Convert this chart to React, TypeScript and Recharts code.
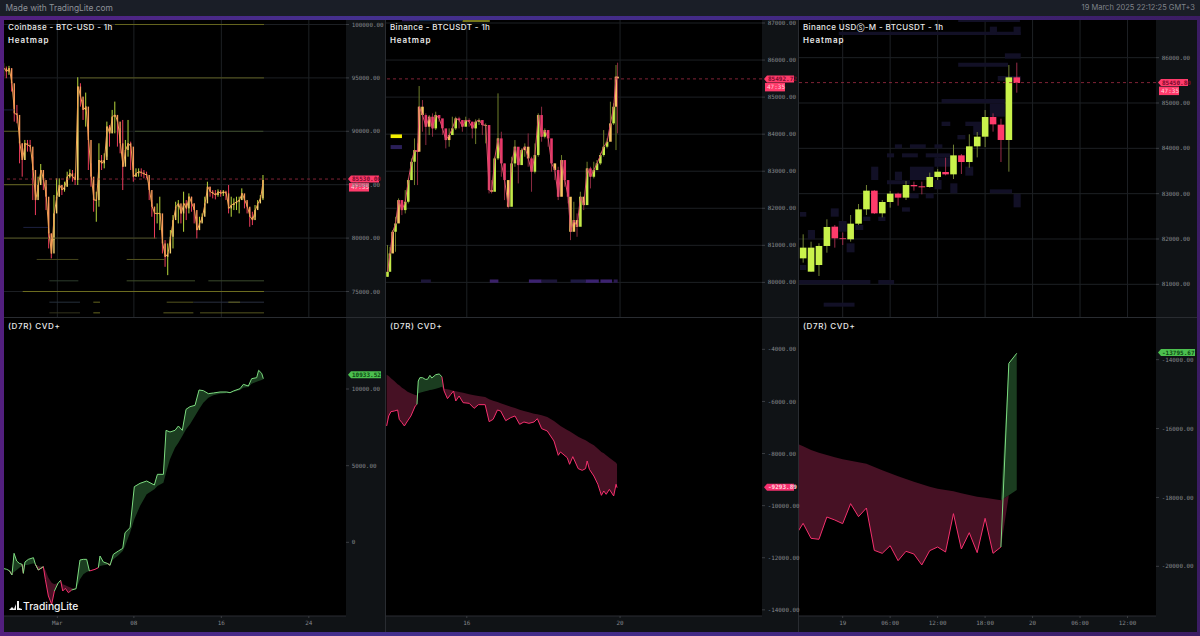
import React from "react";
import {
  ComposedChart, Bar, Line, Area, XAxis, YAxis, CartesianGrid,
  ReferenceLine, ReferenceArea, ReferenceDot,
} from "recharts";

/* ---------- Panel 1: Coinbase BTC-USD ---------- */
const p1Close = [95906,95594,95906,94500,91688,91531,88875,87312,88875,88719,
88562,86375,83562,84969,86375,85438,83875,80437,78562,82312,
83875,84969,84500,84812,85750,86062,85750,85438,94188,93250,
92000,92312,89188,85750,83562,83562,87312,87000,87312,90438,
89812,91375,91531,90906,88875,86687,88250,88875,88562,85750,
86062,86219,86125,86000,85906,84500,82938,82312,82312,82312,
79500,78250,78562,80125,81688,82938,83250,82312,83250,82781,
83875,83250,82625,80750,81375,82000,83250,84812,84344,84188,
84031,84344,84188,84344,84188,82781,83094,83250,83406,83562,
84188,83562,82938,82000,81688,82625,83250,83719,85438];
const p1High = [96375,96062,96125,95906,93875,92469,89812,88875,89188,89188,
89188,87625,85438,85750,86937,86062,84812,83250,80437,84031,
85594,85594,84969,85281,86219,86438,86375,86062,95062,94500,
92937,93625,90750,87000,84500,84344,88875,87781,87937,90906,
90594,92000,92781,91531,90281,91062,89188,91062,89031,86844,
86531,86531,86531,86375,86219,85281,83562,82938,83250,83875,
81062,79812,79500,80750,82156,83406,83562,82938,84344,83562,
84188,83875,83250,82000,82000,82312,83875,85281,84812,84500,
84500,84562,84500,84500,84438,84969,83875,83719,83875,83875,
84656,83875,83406,82781,82469,83094,83562,84031,85906];
const p1Low = [95125,94969,95281,93719,90906,90750,87000,85750,87312,88094,
88094,83562,82156,83875,85125,84500,82625,79031,78094,79812,
83562,83875,84031,84344,84812,85594,85281,84969,84969,92312,
91062,90438,86375,84812,82469,81531,82938,86375,86531,87625,
88562,89812,89812,88562,87937,84500,87000,87625,86375,85281,
85750,85750,85750,85594,85594,83562,82000,79969,81375,80750,
78562,77312,76531,79344,79031,82000,81375,81375,80594,81688,
82312,82469,81375,79969,80750,81531,82312,83562,83875,83719,
83625,83875,83875,83937,83562,82312,82000,82625,82625,82312,
83562,82781,82312,81062,81219,82000,82781,83406,83562];
const p1Days = p1Close.map((_, i) => -3.88 + i * 0.242);
const p1Heat: [number, number, number, string][] = [
  [100000, 6.27, 19.9, "#66661f"],
  [95000, 3.07, 19.9, "#5c5c20"],
  [90000, -3.88, -2.57, "#55551f"],
  [90000, 8.1, 19.84, "#3c4c2c"],
  [85000, -3.88, -1.19, "#66661f"],
  [80000, -3.88, 0.27, "#55551f"],
  [80000, 0.48, 10.09, "#4c4c20"],
  [78000, -0.89, 2.92, "#44441c"],
  [78000, 7.34, 10.85, "#55551f"],
  [76000, 0.27, 2.92, "#2c3c2c"],
  [76000, 7.34, 13.59, "#3e4c28"],
  [76000, 14.81, 19.9, "#3a4a2c"],
  [75000, -2.17, 19.9, "#6e6e20"],
  [74000, 0.27, 3.07, "#26303c"],
  [74000, 4.29, 4.9, "#66661f"],
  [74000, 11, 13.44, "#55551f"],
  [74000, 13.44, 19.9, "#2a3040"],
  [74000, 16.64, 17.71, "#66661f"],
  [73000, 0.27, 3.07, "#33331c"],
  [73000, 4.29, 4.9, "#66661f"],
  [73000, 10.7, 13.44, "#5c5c20"],
  [73000, 14.05, 19.9, "#55551f"],
  [81000, -2.11, 0.18, "#1c2040"],
  [92000, -3.88, -2.87, "#1c2040"],
];
const p1Ticks = [75000, 80000, 85000, 90000, 95000, 100000];
const p1X = [1, 8, 16, 24];
const p1XLabels: Record<number, string> = { 1: "Mar", 8: "08", 16: "16", 24: "24" };

/* ---------- Panel 2: Binance BTCUSDT ---------- */
const p2Hours = [-1.6,-0.1,1.6,3.4,5.3,7.4,9.5,11.4,13.4,15.3,17.2,18.2,20.3,22.4,24.5,26.6,28.6,30.7,32.8,34.9,37,39,41.1,43.2,45.3,47.4,49.5,51.5,53.6,55.7,57.8,59.9,62,63.6,65.5,67.6,69.7,71.7,74,76.1,78.2,80.3,82.4,84.4,86.5,88.6,90.7,92.8,94.9,96.9,99,101.1,103.2,105.3,107.4,109.4,111.5,113,115.1,117.1,119.2,121.3,123.4,125.5,127.6,129.6,131.7,133.8,135.9,138,140,141.5,142.5];
const p2Close = [80286,80781,81366,81591,82221,81951,82176,82761,83256,83571,83526,84741,84516,84201,84471,84156,84516,84426,84156,83841,83976,84156,84426,84381,84201,84381,84336,84156,84336,84381,84246,84246,82491,82446,83346,83886,83211,82761,82041,83211,83661,83166,83571,83661,83346,82986,83436,84516,83931,84111,83886,83211,83031,82311,83301,82761,82311,81366,81681,81501,82311,82086,83076,82851,83031,83211,83436,83661,83796,84291,84741,85551,85506];
const p2High = [81006,80961,81411,81771,82266,82221,82491,82806,83346,83886,83751,85299,84921,84561,84516,84561,84606,84516,84336,83976,84156,84471,84471,84471,84381,84471,84426,84336,84399,84426,84336,84291,83661,82761,83391,85101,84066,83211,82581,83391,83841,83571,83616,83751,84021,83391,83751,84561,84741,84156,84066,83301,83211,83121,83436,82851,82491,82131,82176,81861,82446,82311,83256,83121,83256,83301,83499,84111,83886,84876,84831,85866,85929];
const p2Low = [80151,80421,80871,80826,81771,81816,81861,82131,82851,82626,82626,83571,84066,83706,83976,83931,84111,84336,83976,83616,83661,84066,84111,84156,84066,84291,84201,83886,83733,84246,83976,83751,82401,82401,82581,83301,82851,82221,81996,82671,83121,82671,83211,83391,83121,82446,82941,83391,83796,83886,83661,82986,82761,82221,82581,82581,82131,81141,81411,81231,81771,81951,82581,82536,82806,83031,83166,83391,83616,83931,84246,83571,84021];
const p2Warm = [2, 4, 11, 12, 14, 20, 33, 38, 43, 44, 52, 54, 57, 58, 59, 61, 69, 71, 72];
const p2Ticks = [80000, 81000, 82000, 83000, 84000, 85000, 86000, 87000];
const p2X = [48, 144];
const p2XLabels: Record<number, string> = { 48: "16", 144: "20" };
const p2Heat: [number, number, number, number, string][] = [
  [0.3, 7.4, 83994, 83895, "#f2ee00"],
  [0.3, 7.4, 83706, 83598, "#2a1f58"],
  [45.3, 62.4, 87081, 87027, "#77771a"],
  [7.4, 18.2, 87081, 87045, "#30205c"],
  [18.2, 45.3, 87081, 87045, "#162a4c"],
  [19.3, 25.5, 80079, 79989, "#1c1638"],
  [62.4, 67.8, 80079, 79989, "#3a2068"],
  [86.9, 94.9, 80079, 79989, "#3c2270"],
  [94.9, 104.6, 80079, 79989, "#1c1638"],
  [113, 122.4, 80079, 79989, "#1e1a42"],
  [122.4, 130.7, 80079, 79989, "#3a2270"],
  [131.7, 139, 80079, 79989, "#3c2270"],
  [140, 142.5, 80079, 79989, "#2a1a50"],
];

/* ---------- Panel 3: Binance USD-M BTCUSDT ---------- */
const p3Hours = [-5,-4,-3,-2,-1,0,1,2,3,4,5,6,7,8,9,10,11,12,13,14,15,16,17,18,19,20,21,22];
const p3Open = [81573,81279,81426,81846,82272,82015,81993,82338,82654,83066,82566,82816,83000,82912,83191,83162,83147,83368,83478,83426,83845,83698,84044,84257,84691,84522,84184,85566];
const p3Close = [81809,81809,81846,82265,82015,82000,82338,82654,83066,82566,82816,83000,82912,83191,83162,83140,83368,83485,83426,83845,83698,84044,84257,84691,84529,84184,85566,85441];
const p3High = [82103,81940,81905,82434,82309,82142,82529,82772,83191,83081,82860,83059,83022,83279,83265,83265,83463,83544,83794,84081,83875,84309,84360,84845,84772,84654,85838,85890];
const p3Low = [81478,81279,81184,81698,81809,81868,81941,82309,82529,82551,82478,82691,82735,82860,83066,82985,83132,83301,83404,83323,83434,83573,83801,84029,84368,83698,83485,85228];
const p3Ticks = [81000, 82000, 83000, 84000, 85000, 86000];
const p3X = [0, 6, 12, 18, 24, 30, 36];
const p3XLabels: Record<number, string> = { 0: "19", 6: "06:00", 12: "12:00", 18: "18:00", 24: "20", 30: "06:00", 36: "12:00" };
const p3Heat: [number, number, number, number][] = [
  [14.6,22.4,86830,86787],[-0.5,22.5,86573,86500],[18.6,19.5,86684,86500],[21.6,22.5,86684,86500],
  [20.5,22.5,86096,85978],[14.6,20.9,85890,85801],[19.6,22.5,85596,85493],[12.5,20.5,85088,84993],
  [18.6,20.5,84993,84698],[12.5,13.6,84588,84493],[15.5,17.5,84588,84493],[16.5,17.5,84493,84294],
  [14.5,15.5,84294,84198],[6.6,7.5,84088,83999],[8.5,10.5,84088,83999],[11.6,12.6,84088,83999],
  [5.6,6.5,83890,83801],[7.5,9.5,83890,83801],[10.5,13.6,83890,83801],[11.6,13.6,83801,83595],
  [3.6,4.5,83595,83301],[6.6,7.5,83485,83301],[8.5,11.5,83595,83301],[15.5,16.5,83595,83397],
  [5.6,8.5,83294,83206],[11.6,12.5,83301,83095],[13.6,14.5,83228,83007],[8.5,9.6,83007,82897],
  [10.5,11.5,83007,82897],[18.6,21.4,83095,83007],[21.6,22.5,82992,82698],[7.5,8.5,82698,82603],
  [-5.4,-4.6,82595,82492],[-1.5,-0.5,82676,82492],[-0.5,0.5,82397,82161],[2.6,3.5,82492,82397],
  [4.5,5.4,82492,82397],[1.6,2.6,82309,82198],[-4.4,-3.5,82198,81992],[0.5,1.5,81904,81706],
  [-5.4,-4.6,81426,81316],[-5.5,3.5,81095,81000],[4.5,6.5,81095,81000],[-2.4,1.5,80595,80507],
];

/* ---------- Panel 4: CVD Coinbase ---------- */
const p4Days = [-3.88,-3.63,-3.39,-3.15,-2.96,-2.72,-2.48,-2.23,-2.11,-1.96,-1.65,-1.19,-1.01,-0.74,-0.28,-0.1,0.18,0.48,0.73,1.09,1.3,1.49,1.73,2.01,2.31,2.71,3.07,3.38,3.68,3.93,4.45,4.75,4.9,5.21,5.57,5.82,6.12,6.58,6.98,7.19,7.65,8.04,8.56,9.17,9.87,10.15,10.7,10.94,11.3,11.76,12.07,12.43,12.77,13.13,13.59,13.96,14.35,14.81,15.27,15.88,16.49,16.79,17.1,17.71,18.01,18.47,18.77,19.23,19.41,19.69,19.84];
const p4Cvd = [-1717,-1761,-1848,-2131,-717,-1217,-1370,-1435,-2022,-1283,-1109,-1000,-1435,-1804,-1587,-2413,-3500,-4044,-3174,-2631,-2478,-3174,-3000,-3283,-3109,-3022,-1152,-1109,-1109,-1870,-1761,-1652,-891,-1283,-1370,-1500,-783,-565,-391,630,957,3631,3848,4000,3739,4435,4435,7305,7196,7305,7587,7305,8674,8848,8935,9935,9892,9696,9740,9805,9805,9761,9870,10022,10305,10196,10674,10740,11218,11022,10674];
const p4Sma = [-1717,-1761,-1870,-1978,-1935,-1804,-1652,-1544,-1500,-1500,-1457,-1370,-1457,-1544,-1652,-1804,-2304,-2631,-2739,-2631,-2631,-2739,-2804,-2891,-2978,-3065,-2413,-2087,-1935,-1870,-1717,-1587,-1544,-1500,-1457,-1370,-1109,-848,-565,-239,630,1500,2370,3130,3457,3674,3891,4544,5413,6174,6500,6935,7370,7696,8239,8674,9109,9435,9587,9696,9740,9740,9805,9935,10087,10131,10348,10479,10522,10587,10631];
const p4Ticks = [0, 5000, 10000];

/* ---------- Panel 5: CVD Binance ---------- */
const p5Hours = [-2.2,-0.9,0.5,2.6,4.7,5.7,7.4,8.9,10.9,13,15.7,16.8,17.6,18.6,20.3,22,23.4,24.9,26.1,28.6,30.7,32.4,33.8,35.9,38,39.7,41.1,43.2,45.7,49.5,52.6,55.3,59.5,62,64.5,67.2,69.2,72.4,75.5,78.2,81.1,83.8,86.9,90.1,92.2,94.9,98.4,102.6,105.3,106.7,110.9,112.4,114.4,117.8,120.3,122.4,123.4,124.8,127.6,130.1,132.3,133.8,135.3,137.3,140,141.5,142.1];
const p5Cvd = [-6942,-6558,-6392,-6367,-6328,-6686,-6814,-6942,-6750,-6558,-6175,-6111,-5215,-5087,-5087,-5151,-5151,-4998,-5100,-4972,-4946,-5049,-5599,-5893,-5727,-5599,-5983,-5791,-6047,-6072,-6264,-6123,-6123,-6776,-6686,-6328,-6367,-6738,-6622,-6558,-6878,-6789,-6840,-6789,-6661,-7045,-7134,-7518,-8068,-7940,-8158,-8414,-8119,-8580,-8644,-8580,-8286,-8606,-8862,-9181,-9604,-9437,-9565,-9373,-9629,-9181,-9309];
const p5Sma = [-4972,-5023,-5113,-5215,-5343,-5381,-5471,-5535,-5624,-5688,-5752,-5765,-5688,-5663,-5637,-5612,-5586,-5560,-5548,-5509,-5471,-5433,-5509,-5535,-5560,-5586,-5612,-5637,-5663,-5727,-5765,-5791,-5829,-5919,-5970,-6021,-6072,-6136,-6200,-6251,-6315,-6367,-6418,-6469,-6494,-6533,-6597,-6750,-6878,-6942,-7096,-7147,-7224,-7352,-7429,-7493,-7531,-7582,-7684,-7812,-7940,-7992,-8068,-8158,-8286,-8350,-8414];
const p5Ticks = [-14000, -12000, -10000, -8000, -6000, -4000];

/* ---------- Panel 6: CVD Binance USD-M ---------- */
const p6Hours = [-5.6,-5,-4,-3,-2,-1,0,1,2,3,4,5,6,7,8,9,10,11,12,13,14,15,16,17,18,19,20,21,22];
const p6Cvd = [-18974,-18752,-19187,-19216,-18568,-18655,-18761,-18181,-18558,-18307,-19536,-19623,-19400,-19836,-19564,-19642,-19961,-19545,-19439,-19584,-18471,-19497,-19023,-19603,-18607,-19623,-19439,-14107,-13816];
const p6Sma = [-16458,-16516,-16623,-16700,-16768,-16836,-16894,-16932,-16981,-17020,-17116,-17213,-17300,-17387,-17465,-17542,-17620,-17687,-17745,-17784,-17823,-17881,-17929,-17978,-18007,-18045,-18084,-17939,-17784];
const p6Ticks = [-20000, -18000, -16000, -14000];

/* ---------- Theme ---------- */
const MONO = "'DejaVu Sans Mono', monospace";
const UI = "Inter, sans-serif";
const GRID = "#1d2024";
const TICK = "#85888c";
const AXIS_BG = "#101316";
const PINK = "#ff3b6b";
const GREEN_TAG = "#4cc04f";

type Palette = { upBody: string; downBody: string; upWick: string; downWick: string; warm: string; body: number };
const PAL1: Palette = { upBody: "#f4d070", downBody: "#f79a5c", upWick: "#b8d83c", downWick: "#ec3c5c", warm: "#f4c060", body: 1.4 };
const PAL2: Palette = { upBody: "#c4ea48", downBody: "#e8386a", upWick: "#6f7f2a", downWick: "#8a2a40", warm: "#f7c462", body: 2.6 };
const PAL3: Palette = { upBody: "#c9f24b", downBody: "#ff3b6b", upWick: "#7d8f3a", downWick: "#a83050", warm: "#ff3b6b", body: 6.6 };

const candleShape = (pal: Palette) => (props: any) => {
  const { x, y, width, height, payload } = props;
  const { open, close, high, low, warm } = payload;
  const cx = x + width / 2;
  const k = high > low ? height / (high - low) : 0;
  const up = close >= open;
  const top = y + (high - Math.max(open, close)) * k;
  const h = Math.max(0.8, Math.abs(open - close) * k);
  return (
    <g>
      <line x1={cx} x2={cx} y1={y} y2={y + height} stroke={up ? pal.upWick : pal.downWick} strokeWidth={pal.body > 3 ? 0.9 : 1} />
      <rect x={cx - pal.body / 2} y={top} width={pal.body} height={h} fill={warm ? pal.warm : up ? pal.upBody : pal.downBody} />
    </g>
  );
};

const priceTag = (value: string, timer: string | null, bg: string, fg: string, w: number) => (props: any) => {
  const { cx, cy } = props;
  const X = cx + 2;
  return (
    <g>
      <path d={`M${X} ${cy} L${X + 3} ${cy - 3.5} H${X + w} V${cy + 3.5} H${X + 3} Z`} fill={bg} />
      <text x={X + 4} y={cy + 2.2} fontFamily={MONO} fontSize={6} fontWeight={700} fill={fg}>{value}</text>
      {timer && <rect x={X + 1} y={cy + 4} width={20} height={8.5} fill={bg} />}
      {timer && <text x={X + 3} y={cy + 10.4} fontFamily={MONO} fontSize={6} fill="#ffd0da">{timer}</text>}
    </g>
  );
};

const yFmt = (v: number) => (v === 0 ? "0" : v.toFixed(2));

type PanelGeom = { left: number; plot: number; axis: number };
const G1: PanelGeom = { left: 4, plot: 342, axis: 39 };
const G2: PanelGeom = { left: 386, plot: 376, axis: 36 };
const G3: PanelGeom = { left: 799, plot: 357, axis: 41 };

function Frame({ g, top, height, strip, z, children }: { g: PanelGeom; top: number; height: number; strip?: boolean; z?: number; children: React.ReactNode }) {
  return (
    <div style={{ position: "absolute", left: g.left, top, width: g.plot + g.axis, height, background: "#000", zIndex: z }}>
      <div style={{ position: "absolute", left: g.plot, top: 0, width: g.axis, height, background: AXIS_BG }} />
      {strip && <div style={{ position: "absolute", left: 0, top: height - 16, width: g.plot + g.axis, height: 16, background: AXIS_BG }} />}
      {children}
    </div>
  );
}

const Title = ({ text, x, y, spacing = 0.36, weight = 500 }: { text: React.ReactNode; x: number; y: number; spacing?: number; weight?: number }) => (
  <div style={{ position: "absolute", left: x, top: y, font: `${weight} 8px ${UI}`, letterSpacing: spacing, color: "#e8e8e8", whiteSpace: "nowrap", lineHeight: "10px" }}>{text}</div>
);

const Heatmap = () => <Title text="Heatmap" x={4} y={15} spacing={0.9} weight={600} />;

function yAxisEl(g: PanelGeom, domain: number[], ticks: number[]) {
  return (
    <YAxis orientation="right" type="number" width={g.axis} domain={domain} ticks={ticks} allowDataOverflow interval={0}
      tick={{ fill: TICK, fontFamily: MONO, fontSize: 5.9 }} tickSize={3} tickMargin={2.7} tickLine={{ stroke: "#3a3d42" }}
      axisLine={false} tickFormatter={yFmt} />
  );
}

function CandleChart(p: {
  g: PanelGeom; rows: any[]; xDomain: number[]; yDomain: number[]; yTicks: number[]; xTicks: number[];
  pal: Palette; barSize: number; trail?: string; children?: React.ReactNode;
}) {
  return (
    <ComposedChart width={p.g.plot + p.g.axis} height={297} data={p.rows} margin={{ top: 0, right: 0, bottom: 0, left: 0 }}>
      <CartesianGrid stroke={GRID} horizontalValues={p.yTicks} verticalValues={p.xTicks} />
      <XAxis hide type="number" dataKey="t" domain={p.xDomain} allowDataOverflow ticks={p.xTicks} />
      {yAxisEl(p.g, p.yDomain, p.yTicks)}
      {p.children}
      {p.trail && <Line dataKey="close" type="linear" stroke={p.trail} strokeWidth={1} dot={false} isAnimationActive={false} />}
      <Bar dataKey="range" barSize={p.barSize} shape={candleShape(p.pal)} isAnimationActive={false} />
    </ComposedChart>
  );
}

function buildCvd(ts: number[], cvd: number[], sma: number[]) {
  const above = cvd.map((v, i) => v >= sma[i]);
  return ts.map((t, i) => ({
    t,
    up: [sma[i], Math.max(cvd[i], sma[i])],
    down: [Math.min(cvd[i], sma[i]), sma[i]],
    lineUp: above[i] || above[i + 1] ? cvd[i] : null,
    lineDown: !above[i] || above[i + 1] === false ? cvd[i] : null,
  }));
}

function CvdChart(p: {
  g: PanelGeom; rows: any[]; xDomain: number[]; yDomain: number[]; yTicks: number[]; xTicks: number[];
  xLabels: Record<number, string>; tag?: React.ReactNode;
}) {
  return (
    <ComposedChart width={p.g.plot + p.g.axis} height={314} data={p.rows} margin={{ top: 0, right: 0, bottom: 0, left: 0 }}>
      <XAxis type="number" dataKey="t" domain={p.xDomain} allowDataOverflow ticks={p.xTicks} interval={0} height={16}
        tick={{ fill: TICK, fontFamily: MONO, fontSize: 5.9 }} tickSize={2} tickMargin={3} axisLine={{ stroke: "#2a2d32" }} tickLine={{ stroke: "#3a3d42" }}
        tickFormatter={(v: number) => p.xLabels[v] ?? ""} />
      {yAxisEl(p.g, p.yDomain, p.yTicks)}
      <Area dataKey="down" type="linear" stroke="none" fill="#4a1226" fillOpacity={0.95} isAnimationActive={false} dot={false} activeDot={false} />
      <Area dataKey="up" type="linear" stroke="none" fill="#1e4423" fillOpacity={0.9} isAnimationActive={false} dot={false} activeDot={false} />
      <Line dataKey="lineDown" type="linear" stroke="#f5306e" strokeWidth={1} dot={false} isAnimationActive={false} />
      <Line dataKey="lineUp" type="linear" stroke="#7ddc80" strokeWidth={1} dot={false} isAnimationActive={false} />
      {p.tag}
    </ComposedChart>
  );
}

const rows = (ts: number[], open: number[], close: number[], high: number[], low: number[], warm: number[] = []) =>
  ts.map((t, i) => ({ t, open: open[i], close: close[i], high: high[i], low: low[i], range: [low[i], high[i]], warm: warm.includes(i) }));

const p1Rows = rows(p1Days, p1Close.map((c, i) => (i ? p1Close[i - 1] : c)), p1Close, p1High, p1Low);
const p2Rows = rows(p2Hours, p2Close.map((c, i) => (i ? p2Close[i - 1] : 80151)), p2Close, p2High, p2Low, p2Warm);
const p3Rows = rows(p3Hours, p3Open, p3Close, p3High, p3Low);
const p4Rows = buildCvd(p4Days, p4Cvd, p4Sma);
const p5Rows = buildCvd(p5Hours, p5Cvd, p5Sma);
const p6Rows = buildCvd(p6Hours, p6Cvd, p6Sma);

const X1 = [-3.88, 27.4];
const X2 = [-2.6, 232.9];
const X3 = [-5.52, 39.6];

export default function App() {
  return (
    <div style={{ position: "fixed", left: 0, top: 0, width: 1200, height: 636, overflow: "hidden",
      background: "linear-gradient(90deg,#521f7e 0%,#44308e 30%,#432a86 60%,#3b1c63 100%)" }}>
      <style>{`.recharts-surface{overflow:visible}`}</style>
      {/* top bar */}
      <div style={{ position: "absolute", left: 0, top: 0, width: 1200, height: 16, background: "#1a1e27" }}>
        <div style={{ position: "absolute", left: 5.5, top: 3, font: `400 8.4px ${UI}`, color: "#8d9198", lineHeight: "10px" }}>Made with TradingLite.com</div>
        <div style={{ position: "absolute", right: 5, top: 3, font: `400 7.5px ${UI}`, color: "#7f838a", lineHeight: "10px" }}>19 March 2025 22:12:25 GMT+3</div>
      </div>

      {/* panel dividers */}
      <div style={{ position: "absolute", left: 4, top: 20, width: 1193, height: 612, background: "#292c31", borderRadius: 3 }} />

      {/* top row */}
      <Frame g={G1} top={20} height={297}>
        <CandleChart g={G1} rows={p1Rows} xDomain={X1} yDomain={[72612, 100421]} yTicks={p1Ticks} xTicks={p1X} pal={PAL1} barSize={2} trail="#f0a050">
          {p1Heat.map(([price, a, b, color], i) => (
            <ReferenceLine key={i} segment={[{ x: a, y: price }, { x: b, y: price }]} stroke={color} strokeWidth={1} />
          ))}
          <ReferenceLine y={85530} stroke="#a02c42" strokeDasharray="3 3" strokeWidth={0.8} />
          <ReferenceDot x={X1[1]} y={85530} r={1} shape={priceTag("85530.00", "47:35", PINK, "#7a0a2c", 31)} />
        </CandleChart>
        <Title text="Coinbase - BTC-USD - 1h" x={4} y={2} />
        <Heatmap />
      </Frame>

      <Frame g={G2} top={20} height={297}>
        <CandleChart g={G2} rows={p2Rows} xDomain={X2} yDomain={[79066, 87081]} yTicks={p2Ticks} xTicks={p2X} pal={PAL2} barSize={2} trail="#d8506a">
          {p2Heat.map(([a, b, y1, y2, color], i) => (
            <ReferenceArea key={i} x1={a} x2={b} y1={y1} y2={y2} fill={color} fillOpacity={1} stroke="none" />
          ))}
          <ReferenceLine y={85492} stroke="#a02c42" strokeDasharray="3 3" strokeWidth={0.8} />
          <ReferenceDot x={X2[1]} y={85492} r={1} shape={priceTag("85492.72", "47:35", PINK, "#7a0a2c", 30)} />
        </CandleChart>
        <Title text="Binance - BTCUSDT - 1h" x={4} y={2} />
        <Heatmap />
      </Frame>

      <Frame g={G3} top={20} height={297}>
        <CandleChart g={G3} rows={p3Rows} xDomain={X3} yDomain={[80279, 86831]} yTicks={p3Ticks} xTicks={p3X} pal={PAL3} barSize={6}>
          {p3Heat.map(([a, b, y1, y2], i) => (
            <ReferenceArea key={i} x1={a} x2={b} y1={y1} y2={y2} fill="#121026" fillOpacity={1} stroke="none" />
          ))}
          <ReferenceLine y={85450} stroke="#a02c42" strokeDasharray="3 3" strokeWidth={0.8} />
          <ReferenceDot x={X3[1]} y={85450} r={1} shape={priceTag("85450.80", "47:35", PINK, "#7a0a2c", 30)} />
        </CandleChart>
        <Title text={<>Binance USD<span style={{ fontSize: 5.5 }}>Ⓢ</span>-M - BTCUSDT - 1h</>} x={4} y={2} />
        <Heatmap />
      </Frame>

      {/* bottom row */}
      <Frame g={G1} top={318} height={314} strip>
        <CvdChart g={G1} rows={p4Rows} xDomain={X1} yDomain={[-4804, 14631]} yTicks={p4Ticks} xTicks={p1X} xLabels={p1XLabels}
          tag={<ReferenceDot x={X1[1]} y={10933} r={1} shape={priceTag("10933.52", null, GREEN_TAG, "#0d4a14", 33)} />} />
        <Title text="(D7R) CVD+" x={4} y={3} spacing={0.62} />
      </Frame>
      <Frame g={G2} top={318} height={314} strip z={2}>
        <CvdChart g={G2} rows={p5Rows} xDomain={X2} yDomain={[-14236, -2797]} yTicks={p5Ticks} xTicks={p2X} xLabels={p2XLabels}
          tag={<ReferenceDot x={X2[1]} y={-9293} r={1} shape={priceTag("-9293.89", null, "#f5306e", "#ffd0da", 30)} />} />
        <Title text="(D7R) CVD+" x={4} y={3} spacing={0.62} />
      </Frame>
      <Frame g={G3} top={318} height={314} strip>
        <CvdChart g={G3} rows={p6Rows} xDomain={X3} yDomain={[-21442, -12791]} yTicks={p6Ticks} xTicks={p3X} xLabels={p3XLabels}
          tag={<ReferenceDot x={X3[1]} y={-13795} r={1} shape={priceTag("-13795.67", null, GREEN_TAG, "#0d4a14", 37)} />} />
        <Title text="(D7R) CVD+" x={4} y={3} spacing={0.62} />
      </Frame>

      {/* watermark */}
      <div style={{ position: "absolute", left: 23, top: 600, font: `500 10.3px ${UI}`, color: "#f2f2f2", lineHeight: "12px", zIndex: 3 }}>TradingLite</div>
      <svg style={{ position: "absolute", left: 9, top: 601, zIndex: 3 }} width={13} height={10}>
        <path d="M0 9 L3 6 L5 8 L7 3 L7 9 Z M8 0 H10 V7 L13 8 V9 H8 Z" fill="#f2f2f2" />
      </svg>
    </div>
  );
}
